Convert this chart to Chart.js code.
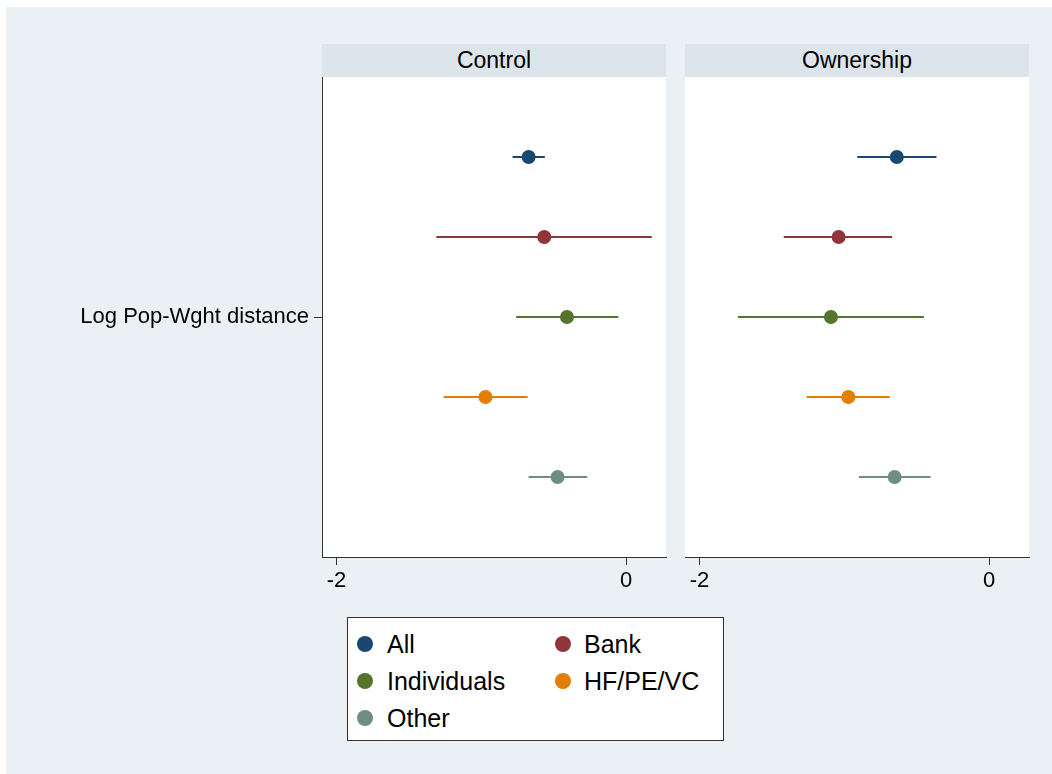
<!DOCTYPE html>
<html>
<head>
<meta charset="utf-8">
<script src="https://cdn.jsdelivr.net/npm/chart.js@4"></script>
<style>
  body { margin: 0; background: #fff; font-family: "Liberation Sans", Arial, Helvetica, sans-serif; }
  #page { position: absolute; left: 6px; top: 7px; width: 1046px; height: 767px; background: #eaf0f3; }
  .strip { position: absolute; top: 44px; height: 33px; background: #dce5ec; color: #000;
           font-size: 23px; line-height: 33px; text-align: center; }
  canvas { position: absolute; }
  #legend { position: absolute; left: 347px; top: 617px; width: 375px; height: 122px;
            border: 1px solid #333; background: #fff; }
  .item { position: absolute; font-size: 25px; line-height: 30px; color: #000; }
  .dot { position: absolute; width: 16px; height: 16px; border-radius: 50%; }
</style>
</head>
<body>
<div id="page"></div>
<div class="strip" id="strip0" style="left:322px;width:344px;"></div>
<div class="strip" id="strip1" style="left:685px;width:344px;"></div>
<canvas id="chart0" width="680" height="530" style="left:0;top:77px;"></canvas>
<canvas id="chart1" width="372" height="530" style="left:680px;top:77px;"></canvas>
<div id="legend"></div>
<script>
// Dados
const categories = ['All', 'Bank', 'Individuals', 'HF/PE/VC', 'Other'];
const colors = ['#1a476f', '#90353b', '#55752f', '#e37e00', '#6e8e84'];
const panelTitles = ['Control', 'Ownership'];
const yLabel = 'Log Pop-Wght distance';
const xTicks = [-2, 0];

const controlEst = [-0.673, -0.565, -0.408, -0.971, -0.473];
const controlLo  = [-0.784, -1.310, -0.759, -1.260, -0.673];
const controlHi  = [-0.561,  0.178, -0.053, -0.680, -0.268];

const ownershipEst = [-0.637, -1.039, -1.092, -0.972, -0.652];
const ownershipLo  = [-0.910, -1.418, -1.735, -1.260, -0.899];
const ownershipHi  = [-0.363, -0.669, -0.450, -0.685, -0.404];

Chart.defaults.font.family = '"Liberation Sans", Arial, Helvetica, sans-serif';
Chart.defaults.color = '#000';

// fundo branco só na área do gráfico
const whiteArea = {
  id: 'whiteArea',
  beforeDraw(chart) {
    const { ctx, chartArea: a } = chart;
    ctx.save();
    ctx.fillStyle = '#fff';
    ctx.fillRect(a.left, a.top, a.right - a.left, a.bottom - a.top);
    ctx.restore();
  }
};

function buildDatasets(est, lo, hi) {
  const sets = [];
  categories.forEach((name, i) => {
    sets.push({
      type: 'line',
      label: name + ' CI',
      data: [{ x: lo[i], y: i + 1 }, { x: hi[i], y: i + 1 }],
      borderColor: colors[i],
      borderWidth: 2,
      pointRadius: 0,
      order: 1
    });
    sets.push({
      type: 'scatter',
      label: name,
      data: [{ x: est[i], y: i + 1 }],
      backgroundColor: colors[i],
      borderWidth: 0,
      pointRadius: 7,
      order: 0
    });
  });
  return sets;
}

function renderPanel(id, est, lo, hi, showY, yWidth, padRight) {
  return new Chart(document.getElementById(id), {
    type: 'scatter',
    data: { datasets: buildDatasets(est, lo, hi) },
    plugins: [whiteArea],
    options: {
      responsive: false,
      animation: false,
      layout: { autoPadding: false, padding: { left: 0, right: padRight, top: 0, bottom: 0 } },
      plugins: { legend: { display: false }, tooltip: { enabled: false } },
      scales: {
        x: {
          type: 'linear',
          min: -2.1,
          max: 0.276,
          afterBuildTicks: (s) => { s.ticks = xTicks.map(v => ({ value: v })); },
          afterFit: (s) => { s.height = 50; s.paddingLeft = 0; s.paddingRight = 0; },
          grid: { drawOnChartArea: false, drawTicks: true, tickLength: 8, color: '#333' },
          border: { display: true, color: '#333', width: 1 },
          ticks: { font: { size: 22 }, padding: 3, maxRotation: 0 }
        },
        y: {
          type: 'linear',
          reverse: true,
          min: 0,
          max: 6,
          afterBuildTicks: (s) => { s.ticks = [{ value: 3 }]; },
          afterFit: (s) => { s.width = yWidth; s.paddingTop = 0; s.paddingBottom = 0; },
          grid: { display: showY, drawOnChartArea: false, drawTicks: true, tickLength: 8, color: '#333' },
          border: { display: showY, color: '#333', width: 1 },
          ticks: { display: showY, font: { size: 22 }, padding: 5, callback: () => yLabel }
        }
      }
    }
  });
}

renderPanel('chart0', controlEst, controlLo, controlHi, true, 322, 14);
renderPanel('chart1', ownershipEst, ownershipLo, ownershipHi, false, 5, 23);

document.getElementById('strip0').textContent = panelTitles[0];
document.getElementById('strip1').textContent = panelTitles[1];

// legenda em duas colunas
const legend = document.getElementById('legend');
categories.forEach((name, i) => {
  const col = i % 2, row = Math.floor(i / 2);
  const top = 11 + row * 37;
  const dot = document.createElement('div');
  dot.className = 'dot';
  dot.style.background = colors[i];
  dot.style.left = (9 + col * 198) + 'px';
  dot.style.top = (top + 7) + 'px';
  legend.appendChild(dot);
  const txt = document.createElement('div');
  txt.className = 'item';
  txt.textContent = name;
  txt.style.left = (39 + col * 197) + 'px';
  txt.style.top = top + 'px';
  legend.appendChild(txt);
});
</script>
</body>
</html>
